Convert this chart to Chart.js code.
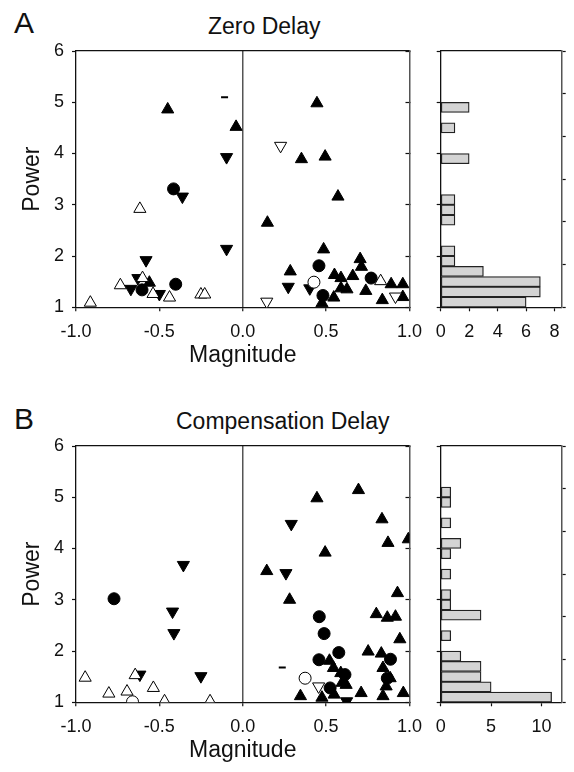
<!DOCTYPE html>
<html><head><meta charset="utf-8">
<script src="https://cdn.jsdelivr.net/npm/chart.js@4"></script>
<style>
html,body{margin:0;padding:0;background:#fff;overflow:hidden}
#wrap{position:relative;width:574px;height:772px;overflow:hidden;font-family:"Liberation Sans",Arial,sans-serif;color:#111}
canvas{position:absolute}
.lbl{position:absolute;white-space:nowrap;line-height:1}
</style></head><body><div id="wrap">
<div class="lbl" style="left:14px;top:7.8px;font-size:30px">A</div>
<div class="lbl" style="left:208px;top:15.3px;font-size:23px">Zero Delay</div>
<div class="lbl" style="left:14px;top:404px;font-size:30px">B</div>
<div class="lbl" style="left:176px;top:410px;font-size:23px">Compensation Delay</div>
<canvas id="sa" width="432" height="380" style="left:0;top:0"></canvas>
<canvas id="ha" width="154" height="380" style="left:420px;top:0"></canvas>
<canvas id="sb" width="432" height="380" style="left:0;top:395px"></canvas>
<canvas id="hb" width="154" height="380" style="left:420px;top:395px"></canvas>
</div>
<script>
// ---- tick labels ----
const magTicks = [-1, -0.5, 0, 0.5, 1];
const powerTicks = [1, 2, 3, 4, 5, 6];
const histTicksA = [0, 2, 4, 6, 8];
const histTicksB = [0, 5, 10];

// ---- Panel A: Zero Delay ----
const aUpFilledMag = [-0.45, -0.04, -0.56, 0.445, 0.352, 0.494, 0.571, 0.148, 0.485, 0.285, 0.475, 0.55, 0.589, 0.589, 0.625, 0.66, 0.546, 0.704, 0.712, 0.738, 0.89, 0.96, 0.837, 0.96];
const aUpFilledPow = [4.86, 4.52, 1.48, 4.98, 3.89, 3.94, 3.16, 2.65, 2.13, 1.70, 1.08, 1.63, 1.57, 1.37, 1.35, 1.61, 1.19, 1.94, 1.79, 1.32, 1.45, 1.45, 1.14, 1.20];
const aDownFilledMag = [-0.097, -0.362, -0.097, -0.58, -0.671, -0.629, -0.5, 0.273, 0.402];
const aDownFilledPow = [3.93, 3.16, 2.14, 1.92, 1.36, 1.57, 1.26, 1.40, 1.37];
const aCircFilledMag = [-0.415, -0.604, -0.402, 0.457, 0.481, 0.77];
const aCircFilledPow = [3.31, 1.34, 1.45, 1.81, 1.23, 1.57];
const aUpOpenMag = [-0.617, -0.734, -0.601, -0.538, -0.439, -0.251, -0.228, -0.914, 0.827];
const aUpOpenPow = [2.92, 1.43, 1.57, 1.26, 1.19, 1.25, 1.25, 1.09, 1.51];
const aDownOpenMag = [0.227, 0.144, 0.916];
const aDownOpenPow = [4.15, 1.11, 1.21];
const aCircOpenMag = [0.427];
const aCircOpenPow = [1.49];
const aDashMag = [-0.109];
const aDashPow = [5.10];
const aBinCenters = [1.1, 1.3, 1.5, 1.7, 1.9, 2.1, 2.7, 2.9, 3.1, 3.9, 4.5, 4.9];
const aBinCounts  = [6, 7, 7, 3, 1, 1, 1, 1, 1, 2, 1, 2];

// ---- Panel B: Compensation Delay ----
const bUpFilledMag = [0.694, 0.445, 0.835, 0.871, 0.993, 0.494, 0.144, 0.281, 0.928, 0.801, 0.867, 0.916, 0.942, 0.752, 0.831, 0.52, 0.544, 0.841, 0.588, 0.884, 0.596, 0.62, 0.86, 0.548, 0.71, 0.346, 0.475, 0.841, 0.963];
const bUpFilledPow = [5.14, 4.98, 4.57, 4.11, 4.18, 3.92, 3.56, 3.00, 3.13, 2.72, 2.65, 2.67, 2.23, 1.99, 1.95, 1.81, 1.67, 1.67, 1.57, 1.47, 1.38, 1.34, 1.31, 1.15, 1.18, 1.12, 1.09, 1.12, 1.18];
const bDownFilledMag = [-0.356, -0.421, -0.413, -0.251, -0.617, 0.291, 0.259, 0.623];
const bDownFilledPow = [3.68, 2.77, 2.35, 1.51, 1.54, 4.48, 3.52, 1.02];
const bCircFilledMag = [-0.772, 0.459, 0.488, 0.576, 0.886, 0.457, 0.613, 0.867, 0.524];
const bCircFilledPow = [3.02, 2.67, 2.34, 1.97, 1.84, 1.83, 1.54, 1.47, 1.28];
const bUpOpenMag = [-0.645, -0.945, -0.803, -0.694, -0.536, -0.469, -0.196];
const bUpOpenPow = [1.53, 1.48, 1.17, 1.21, 1.28, 1.02, 1.02];
const bDownOpenMag = [0.455];
const bDownOpenPow = [1.31];
const bCircOpenMag = [-0.661, 0.374];
const bCircOpenPow = [1.01, 1.47];
const bDashMag = [0.237];
const bDashPow = [1.68];
const bBinCenters = [1.1, 1.3, 1.5, 1.7, 1.9, 2.3, 2.7, 2.9, 3.1, 3.5, 3.9, 4.1, 4.5, 4.9, 5.1];
const bBinCounts  = [11, 5, 4, 4, 2, 1, 4, 1, 1, 1, 1, 2, 1, 1, 1];

Chart.defaults.font.family = '"Liberation Sans", Arial, sans-serif';
Chart.defaults.color = '#111';

const common = {responsive:false, animation:false, devicePixelRatio:1, events:[],
  plugins:{legend:{display:false}, tooltip:{enabled:false}}};
const INK = '#111';
function fixedTicks(arr){ return s => { s.ticks = arr.map(v => ({value:v})); }; }

const markerStyles = {
  upFilled:   {pointStyle:'triangle', rotation:0,   fill:'#000', r:7},
  downFilled: {pointStyle:'triangle', rotation:180, fill:'#000', r:7},
  circFilled: {pointStyle:'circle',   rotation:0,   fill:'#000', r:6},
  upOpen:     {pointStyle:'triangle', rotation:0,   fill:'#fff', r:7},
  downOpen:   {pointStyle:'triangle', rotation:180, fill:'#fff', r:7},
  circOpen:   {pointStyle:'circle',   rotation:0,   fill:'#fff', r:6},
  dash:       {pointStyle:'line',     rotation:0,   fill:'#000', r:3.5, bw:2}
};

function frameAxes(xmin, xmax, rightTick) {
  return {
    x2:{type:'linear', position:'top', min:xmin, max:xmax, ticks:{display:false},
        grid:{display:false}, border:{display:true, color:INK, width:1.3},
        afterFit:s => { s.height = 0; }},
    y2:{type:'linear', position:'right', min:1, max:6, afterBuildTicks:fixedTicks(powerTicks),
        ticks:{display:false},
        grid:{display:true, drawOnChartArea:false, drawTicks:true, tickLength:rightTick, tickColor:INK, tickWidth:1.2},
        border:{display:true, color:'#555', width:1.5},
        afterFit:s => { s.width = 0; }}
  };
}

function makeScatter(id, sets) {
  const datasets = sets.map(s => {
    const st = markerStyles[s.kind];
    return {
      data: s.mag.map((m, i) => ({x:m, y:s.pow[i]})),
      pointStyle: st.pointStyle, rotation: st.rotation, pointRadius: st.r,
      backgroundColor: st.fill, borderColor:'#000', borderWidth: st.bw || 1,
      xAxisID:'x', yAxisID:'y'
    };
  });
  new Chart(document.getElementById(id), {
    type:'scatter',
    data:{datasets},
    options:Object.assign({}, common, {
      layout:{padding:{top:51, right:19, left:0, bottom:0}},
      scales:Object.assign({
        x:{type:'linear', position:'bottom', min:-1, max:1, afterBuildTicks:fixedTicks(magTicks),
           ticks:{font:{size:18}, padding:10, maxRotation:0, autoSkip:false, color:INK,
                  callback:v => Number(v).toFixed(1)},
           grid:{drawOnChartArea:true, color:c => (c.tick && c.tick.value === 0) ? '#555' : 'rgba(0,0,0,0)',
                 lineWidth:1.5, tickColor:INK, tickWidth:1.2, tickLength:4},
           border:{display:true, color:INK, width:1.3},
           title:{display:true, text:'Magnitude', color:INK, font:{size:23}, padding:{top:0, bottom:11}},
           afterFit:s => { s.height = 72.7; }},
        y:{type:'linear', position:'left', min:1, max:6, afterBuildTicks:fixedTicks(powerTicks),
           ticks:{font:{size:18}, padding:8, color:INK},
           grid:{drawOnChartArea:false, tickColor:INK, tickWidth:1.2, tickLength:4},
           border:{display:true, color:INK, width:1.3},
           title:{display:true, text:'Power', color:INK, font:{size:23}, padding:{top:19, bottom:0}},
           afterFit:s => { s.width = 76; }}
      }, frameAxes(-1, 1, -4))
    })
  });
}

function makeHist(id, centers, counts, xmax, xticks) {
  new Chart(document.getElementById(id), {
    type:'bar',
    data:{datasets:[{
      data: centers.map((c, i) => ({y:c, x:counts[i]})),
      backgroundColor:'#d4d4d4', borderColor:'#222', borderWidth:1.3, borderSkipped:false,
      barPercentage:1, categoryPercentage:1, xAxisID:'x', yAxisID:'y'
    }]},
    options:Object.assign({}, common, {
      indexAxis:'y',
      layout:{padding:{top:51, right:12.3, left:0, bottom:0}},
      scales:Object.assign({
        x:{type:'linear', position:'bottom', min:0, max:xmax, afterBuildTicks:fixedTicks(xticks),
           ticks:{font:{size:18}, padding:10, maxRotation:0, autoSkip:false, color:INK},
           grid:{drawOnChartArea:false, tickColor:INK, tickWidth:1.2, tickLength:4},
           border:{display:true, color:INK, width:1.3},
           afterFit:s => { s.height = 72.7; }},
        y:{type:'linear', position:'left', min:1, max:6, offset:false, afterBuildTicks:fixedTicks(powerTicks),
           ticks:{display:false},
           grid:{offset:false, drawOnChartArea:false, tickColor:INK, tickWidth:1.2, tickLength:4},
           border:{display:true, color:INK, width:1.3},
           afterFit:s => { s.width = 20.7; }}
      }, frameAxes(0, xmax, 4))
    })
  });
}

makeScatter('sa', [
  {kind:'upOpen', mag:aUpOpenMag, pow:aUpOpenPow},
  {kind:'downOpen', mag:aDownOpenMag, pow:aDownOpenPow},
  {kind:'circOpen', mag:aCircOpenMag, pow:aCircOpenPow},
  {kind:'upFilled', mag:aUpFilledMag, pow:aUpFilledPow},
  {kind:'downFilled', mag:aDownFilledMag, pow:aDownFilledPow},
  {kind:'circFilled', mag:aCircFilledMag, pow:aCircFilledPow},
  {kind:'dash', mag:aDashMag, pow:aDashPow}
]);
makeHist('ha', aBinCenters, aBinCounts, 8.5, histTicksA);

makeScatter('sb', [
  {kind:'upOpen', mag:bUpOpenMag, pow:bUpOpenPow},
  {kind:'downOpen', mag:bDownOpenMag, pow:bDownOpenPow},
  {kind:'circOpen', mag:bCircOpenMag, pow:bCircOpenPow},
  {kind:'upFilled', mag:bUpFilledMag, pow:bUpFilledPow},
  {kind:'downFilled', mag:bDownFilledMag, pow:bDownFilledPow},
  {kind:'circFilled', mag:bCircFilledMag, pow:bCircFilledPow},
  {kind:'dash', mag:bDashMag, pow:bDashPow}
]);
makeHist('hb', bBinCenters, bBinCounts, 12, histTicksB);
</script>
</body></html>
